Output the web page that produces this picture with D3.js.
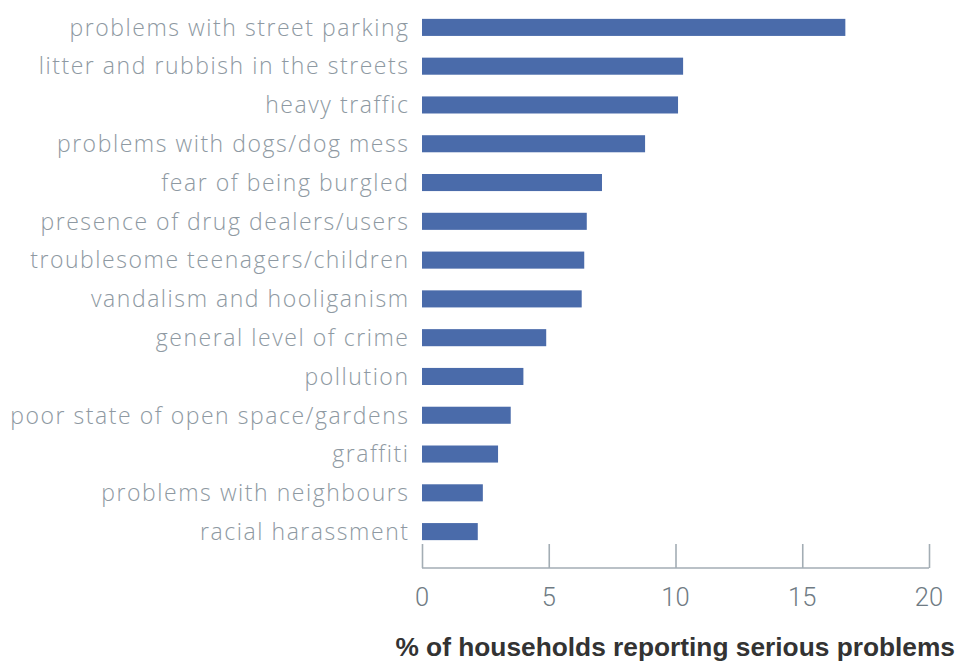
<!DOCTYPE html>
<html><head><meta charset="utf-8">
<script src="https://cdn.jsdelivr.net/npm/d3@7"></script>
<style>body{margin:0;background:#fff;}svg{display:block;}</style>
</head><body>
<svg id="c" width="959" height="662"></svg>
<script>
const categories = ["problems with street parking","litter and rubbish in the streets","heavy traffic","problems with dogs/dog mess","fear of being burgled","presence of drug dealers/users","troublesome teenagers/children","vandalism and hooliganism","general level of crime","pollution","poor state of open space/gardens","graffiti","problems with neighbours","racial harassment"];
const values = [16.7,10.3,10.1,8.8,7.1,6.5,6.4,6.3,4.9,4.0,3.5,3.0,2.4,2.2];
const xTicks = [0,5,10,15,20];
const axisTitle = "% of households reporting serious problems";

const svg = d3.select("#c");
const x = d3.scaleLinear().domain([0,20]).range([422,929]);
const y = d3.scaleBand().domain(categories).range([8,551]).paddingInner(0.56).paddingOuter(0.28);

svg.selectAll("rect.bar").data(values).enter().append("rect")
  .attr("class","bar")
  .attr("x", x(0))
  .attr("y", (d,i)=>y(categories[i]))
  .attr("width", d=>x(d)-x(0))
  .attr("height", y.bandwidth())
  .attr("fill","#4a6baa");

const labels = svg.selectAll("text.cat").data(categories).enter().append("text")
  .attr("class","cat")
  .attr("x", 408)
  .attr("y", d=>y(d)+y.bandwidth()/2)
  .attr("dy","0.36em")
  .attr("text-anchor","end")
  .attr("font-family","'Open Sans', Roboto, sans-serif")
  .attr("font-weight",300)
  .attr("font-size","23px")
  .attr("fill","#8e99a2")
  .text(d=>d);
const w0 = labels.node().getComputedTextLength();
const ls = (340 - w0) / (categories[0].length);
labels.attr("letter-spacing", ls + "px").attr("x", 408 + ls);

const axisG = svg.append("g").attr("transform","translate(0,568)");
const axis = d3.axisTop(x).tickValues(xTicks).tickSize(24).tickFormat("");
axisG.call(axis);
axisG.select(".domain").attr("d", `M${x(0)},0H${x(20)}`).attr("stroke","#a3adb4").attr("stroke-width",1.6);
axisG.selectAll(".tick line").attr("stroke","#a3adb4").attr("stroke-width",1.6);

svg.selectAll("text.tk").data(xTicks).enter().append("text")
  .attr("class","tk")
  .attr("x", d=>x(d))
  .attr("y", 606)
  .attr("text-anchor","middle")
  .attr("font-family","Roboto, 'Open Sans', sans-serif")
  .attr("font-weight",300)
  .attr("font-size","25.5px")
  .attr("fill","#6f7b84")
  .text(d=>d);

svg.append("text")
  .attr("x", 955).attr("y", 656)
  .attr("text-anchor","end")
  .attr("font-family","'Liberation Sans', Arial, sans-serif")
  .attr("font-weight","bold")
  .attr("font-size","26.3px")
  .attr("fill","#333")
  .text(axisTitle);
</script>
</body></html>
